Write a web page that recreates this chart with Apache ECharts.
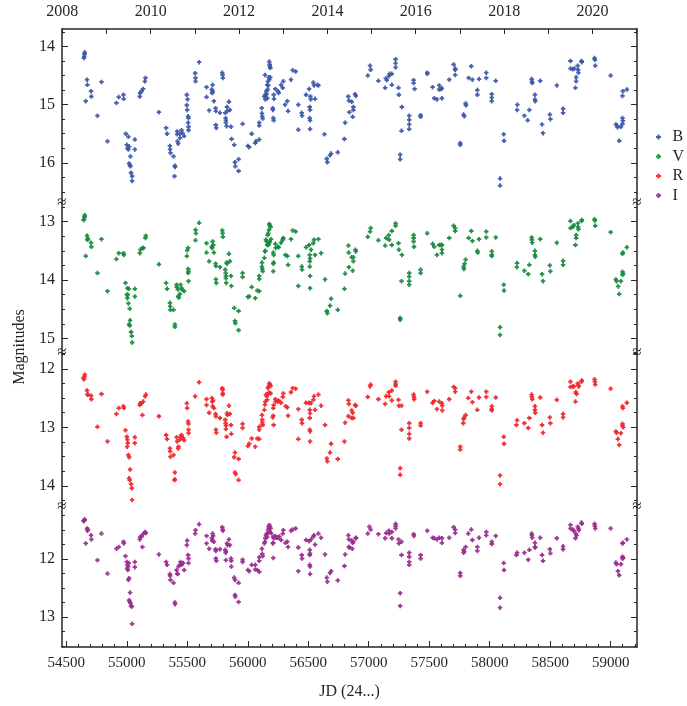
<!DOCTYPE html>
<html><head><meta charset="utf-8">
<script src="https://cdn.jsdelivr.net/npm/echarts@6/dist/echarts.min.js"></script>
<style>html,body{margin:0;padding:0;background:#fff}#c{width:687px;height:706px}</style>
</head><body><div id="c"></div>
<script>
const bandNames = ['B', 'V', 'R', 'I'];
const bandColors = ['#3a56aa', '#17893d', '#f0252b', '#9a2b8e'];

const bandB = [[54645,14.20],[54648,14.17],[54650,14.13],[54652,14.10],
[54660,14.94],[54671,14.57],[54674,14.66],[54704,14.77],[54707,14.86],
[54757,15.19],[54790,14.61],[54840,15.63],
[54914,14.97],[54933,14.87],[54972,14.83],[54974,14.90],
[54991,15.50],[55013,15.55],[55000,15.69],[55005,15.75],[55013,15.77],[55019,15.72],
[55030,15.89],[55019,16.01],[55025,16.04],[55030,16.06],
[55035,16.17],[55044,16.23],[55044,16.31],
[55066,15.60],[55066,15.77],
[55107,14.86],[55110,14.80],[55121,14.77],[55135,14.73],[55149,14.60],[55154,14.54],
[55265,15.13],[55325,15.40],[55333,15.50],
[55356,15.71],[55358,15.77],[55361,15.83],[55386,15.89],[55397,16.05],[55399,16.07],[55394,16.23],
[55416,15.46],[55416,15.51],[55419,15.63],[55425,15.67],[55438,15.50],[55440,15.57],[55452,15.44],[55460,15.49],[55474,15.54],
[55496,14.83],[55502,14.91],[55496,15.01],[55499,15.09],[55507,15.20],[55510,15.23],[55507,15.31],[55510,15.38],[55510,15.44],
[55565,14.46],[55568,14.54],[55568,14.60],[55598,14.27],
[55659,14.70],[55659,14.87],[55681,15.10],[55703,14.74],[55706,14.80],[55709,14.77],[55709,14.66],[55720,14.94],
[55734,15.06],[55736,15.11],[55736,15.35],[55740,15.40],[55770,15.14],
[55789,14.45],[55792,14.49],[55794,14.54],
[55814,15.14],[55817,15.23],[55819,15.27],[55819,15.31],[55825,15.37],[55828,15.04],[55831,15.11],[55844,14.95],[55852,15.09],[55861,15.38],[55866,15.59],
[55888,15.69],[55894,15.99],[55897,16.06],[55924,15.94],[55924,16.14],[55957,15.33],
[56001,15.71],[56012,15.73],[56032,15.50],[56062,15.66],[56068,15.63],
[56095,15.60],[56095,15.31],[56095,15.36],
[56115,15.06],[56117,15.15],[56120,15.20],[56123,15.24],
[56137,14.86],[56145,14.91],[56145,14.83],[56142,14.49],
[56153,14.77],[56156,14.82],[56161,14.89],[56161,14.66],[56167,14.60],[56172,14.53],
[56178,14.26],[56181,14.31],[56183,14.34],[56186,14.37],
[56164,14.74],[56170,14.67],[56178,14.57],[56186,14.53],
[56206,15.06],[56208,15.09],[56211,15.23],[56214,15.27],[56214,14.83],[56217,14.90],
[56228,14.73],[56250,14.77],[56255,14.80],[56275,14.66],[56289,14.71],[56294,14.60],
[56308,15.00],[56327,14.94],[56333,15.11],[56357,14.57],[56371,14.41],[56396,14.43],
[56418,15.00],[56418,15.43],[56446,15.14],[56449,15.19],
[56482,14.83],[56507,14.73],[56512,15.04],[56515,15.09],[56512,15.23],[56515,15.27],[56515,15.42],[56518,14.86],[56520,14.91],
[56542,14.62],[56548,14.67],[56556,14.90],[56576,14.66],[56584,14.67],
[56634,15.51],[56653,15.93],[56658,15.99],[56680,15.87],[56689,15.84],[56744,15.82],
[56799,15.59],[56805,15.31],
[56831,14.86],[56836,14.93],[56859,14.95],[56840,15.13],[56873,15.04],[56873,15.09],[56867,15.21],[56887,14.82],[56893,14.85],
[56992,14.50],[57011,14.33],[57016,14.40],[57080,14.59],[57136,14.71],[57141,14.55],[57149,14.58],[57166,14.51],[57172,14.47],[57191,14.47],[57191,14.66],
[57222,14.22],[57222,14.29],[57222,14.36],[57246,14.71],[57249,14.83],[57274,15.04],[57271,15.45],[57260,15.86],[57260,15.94],
[57335,15.19],[57335,15.26],[57335,15.34],[57335,15.42],
[57371,14.58],[57371,14.63],[57379,14.73],[57429,15.18],[57429,15.21],[57484,14.45],[57484,14.47],
[57528,14.70],[57542,14.89],[57564,14.91],[57583,14.67],[57583,14.74],[57597,14.73],[57605,14.72],[57605,14.89],
[57666,14.57],[57702,14.31],[57715,14.38],[57715,14.40],[57715,14.49],
[57757,15.66],[57757,15.69],[57784,15.17],[57790,15.20],[57801,14.98],[57804,15.01],
[57826,14.54],[57848,14.34],[57857,14.57],[57898,14.75],[57898,14.83],[57912,14.56],
[57972,14.45],[57972,14.54],[58017,14.82],[58017,14.88],[58017,14.94],[58050,14.59],
[58086,16.27],[58086,16.39],[58116,15.51],[58119,15.62],
[58227,15.09],[58229,15.00],[58287,15.19],[58314,15.27],[58328,15.09],
[58347,14.56],[58349,14.60],[58352,14.63],[58374,14.83],[58374,14.91],[58377,14.94],
[58418,14.59],[58433,15.34],[58441,15.49],[58497,15.17],[58502,15.25],[58555,14.67],[58607,15.07],[58607,15.14],
[58668,14.25],[58668,14.38],[58687,14.39],[58701,14.38],[58709,14.71],[58715,14.53],[58715,14.60],[58728,14.33],[58731,14.40],[58734,14.45],
[58759,14.25],[58762,14.27],[58867,14.20],[58870,14.23],[58873,14.33],
[59000,14.50],[59043,15.34],[59054,15.36],[59057,15.39],[59071,15.62],[59085,15.38],[59098,15.23],[59101,15.28],[59098,15.33],[59098,14.85],[59101,14.77],[59134,14.74]];

const bandV = [[54642,12.97],[54646,12.96],[54650,12.92],[54652,12.89],
[54660,13.59],[54671,13.24],[54674,13.31],[54679,13.29],[54704,13.36],[54707,13.43],
[54757,13.88],[54790,13.30],[54840,14.19],
[54914,13.64],[54933,13.54],[54972,13.54],[54975,13.57],
[54989,14.05],[55000,14.25],[55005,14.14],[55008,14.25],[55005,14.31],[55016,14.15],[55013,14.40],[55024,14.49],
[55019,14.76],[55024,14.78],[55027,14.69],[55035,14.89],[55041,14.96],[55044,15.07],
[55066,14.15],[55066,14.28],
[55107,13.54],[55113,13.48],[55129,13.45],[55138,13.45],[55154,13.28],[55157,13.24],
[55265,13.73],[55325,14.05],[55333,14.15],
[55356,14.39],[55358,14.45],[55361,14.51],[55386,14.51],[55397,14.76],[55397,14.80],
[55411,14.08],[55413,14.12],[55422,14.16],[55425,14.28],[55430,14.30],[55438,14.24],
[55444,14.08],[55452,14.14],[55460,14.17],[55474,14.19],
[55496,13.59],[55499,13.49],[55507,13.45],[55507,13.81],[55507,13.88],[55510,13.85],[55510,14.02],
[55568,13.14],[55571,13.20],[55568,13.32],[55598,13.02],
[55659,13.37],[55659,13.53],[55681,13.68],[55703,13.43],[55706,13.45],[55714,13.40],[55709,13.34],[55720,13.53],
[55734,13.72],[55736,13.76],[55736,13.99],[55740,14.05],[55770,13.78],
[55789,13.15],[55792,13.20],[55794,13.26],
[55814,13.82],[55817,13.88],[55819,13.93],[55819,13.97],[55822,14.05],[55825,13.70],[55828,13.72],[55844,13.55],[55852,13.68],[55861,13.93],[55864,14.10],
[55888,14.48],[55894,14.70],[55897,14.74],[55924,14.53],[55924,14.86],[55957,13.88],[55957,13.95],
[56001,14.29],[56012,14.28],[56032,14.12],[56062,14.31],[56079,14.18],[56095,14.19],
[56095,13.93],[56095,13.98],
[56117,13.70],[56117,13.77],[56120,13.81],[56123,13.85],
[56137,13.62],[56142,13.51],[56145,13.50],
[56150,13.31],[56156,13.34],[56161,13.40],
[56164,13.23],[56170,13.20],[56175,13.14],[56178,13.04],[56183,13.07],[56189,13.09],
[56170,13.40],[56175,13.37],[56183,13.34],[56192,13.30],
[56211,13.53],[56214,13.57],[56211,13.72],[56214,13.70],[56211,13.85],
[56228,13.38],[56231,13.45],[56250,13.43],[56255,13.44],[56275,13.36],[56289,13.31],[56294,13.28],
[56311,13.57],[56327,13.59],[56333,13.74],[56357,13.30],[56371,13.15],[56396,13.17],
[56418,13.59],[56418,14.10],[56446,13.77],[56449,13.82],
[56482,13.44],[56507,13.40],[56512,13.57],[56515,13.63],[56512,13.68],[56512,13.77],[56515,13.93],[56515,14.14],[56523,13.48],
[56542,13.37],[56548,13.31],[56556,13.57],[56584,13.30],[56606,13.54],
[56639,13.99],[56653,14.53],[56658,14.57],[56680,14.44],[56689,14.32],[56744,14.51],
[56799,14.15],[56805,13.89],
[56832,13.41],[56834,13.53],[56836,13.78],[56859,13.61],[56867,13.84],[56873,13.68],[56873,13.61],[56890,13.48],[56893,13.51],
[56992,13.26],[57011,13.17],[57016,13.11],[57080,13.32],[57136,13.41],[57144,13.28],[57166,13.23],[57169,13.31],[57191,13.16],[57191,13.40],
[57222,13.03],[57222,13.07],[57246,13.37],[57249,13.48],[57274,13.57],[57271,14.02],[57260,14.65],[57260,14.68],
[57335,13.88],[57335,13.94],[57335,14.02],[57335,14.08],
[57371,13.23],[57371,13.28],[57371,13.34],[57374,13.43],[57429,13.82],[57429,13.88],[57484,13.20],
[57528,13.38],[57542,13.43],[57564,13.57],[57583,13.40],[57597,13.40],[57605,13.40],[57605,13.48],[57605,13.54],
[57666,13.28],[57702,13.07],[57715,13.11],[57715,13.16],
[57757,14.27],[57784,13.77],[57787,13.81],[57793,13.72],[57801,13.65],
[57826,13.28],[57848,13.16],[57857,13.33],[57898,13.50],[57901,13.53],[57912,13.30],
[57972,13.17],[57972,13.27],[58017,13.51],[58017,13.57],[58017,13.59],[58050,13.27],
[58086,14.81],[58086,14.94],[58116,14.08],[58119,14.18],
[58224,13.78],[58227,13.71],[58287,13.84],[58319,13.90],[58328,13.74],
[58347,13.27],[58349,13.31],[58352,13.36],[58374,13.50],[58374,13.57],[58377,13.60],
[58418,13.30],[58433,13.90],[58441,14.02],[58497,13.75],[58502,13.85],[58555,13.36],[58607,13.67],[58607,13.74],
[58668,12.99],[58668,13.11],[58687,13.09],[58695,13.06],[58709,13.40],[58715,13.23],[58715,13.28],[58728,13.03],[58731,13.09],[58734,13.13],
[58759,12.99],[58762,12.97],[58867,12.96],[58870,12.98],[58873,13.07],
[59000,13.18],[59043,13.99],[59049,14.02],[59063,14.11],[59071,14.24],[59085,14.02],[59098,13.86],[59098,13.91],[59104,13.89],[59098,13.55],[59101,13.53],[59134,13.44]];

const bandR = [[54642,12.16],[54646,12.18],[54650,12.13],[54652,12.10],
[54671,12.37],[54674,12.44],[54679,12.44],[54704,12.46],[54707,12.52],
[54757,12.99],[54790,12.43],[54840,13.24],
[54914,12.77],[54933,12.67],[54972,12.64],[54975,12.67],
[54989,13.05],[55000,13.16],[55005,13.21],[55003,13.33],[55008,13.27],
[55013,13.47],[55019,13.51],[55027,13.72],[55019,13.87],[55024,13.90],[55035,13.97],[55041,14.04],[55044,14.24],
[55066,13.17],[55066,13.27],
[55107,12.62],[55110,12.59],[55121,12.59],[55129,12.79],[55135,12.56],[55151,12.47],[55157,12.44],
[55265,12.81],[55325,13.13],[55333,13.20],
[55356,13.36],[55358,13.41],[55361,13.50],[55386,13.47],[55397,13.77],[55397,13.89],[55394,13.90],
[55411,13.17],[55416,13.24],[55425,13.36],[55427,13.33],[55438,13.21],[55444,13.16],[55452,13.13],[55466,13.18],[55474,13.22],
[55496,12.59],[55499,12.67],[55507,12.90],[55510,12.94],[55510,13.04],[55510,13.10],
[55565,12.47],[55598,12.23],
[55659,12.52],[55659,12.62],[55681,12.75],[55703,12.50],[55706,12.56],[55714,12.54],[55709,12.64],[55720,12.67],
[55734,12.77],[55736,12.81],[55736,13.04],[55740,13.09],[55770,12.84],
[55789,12.33],[55792,12.36],[55794,12.42],[55792,12.44],
[55814,12.87],[55817,12.93],[55819,12.97],[55819,13.03],[55825,13.16],[55828,12.76],[55833,12.79],[55844,12.63],[55852,12.77],[55861,12.96],[55864,13.11],
[55894,13.43],[55888,13.51],[55894,13.77],[55900,13.80],[55924,13.54],[55924,13.90],
[55957,12.94],[55957,13.01],
[56001,13.32],[56012,13.28],[56032,13.19],[56062,13.33],[56079,13.19],[56095,13.20],[56095,12.99],[56095,13.04],
[56117,12.79],[56120,12.87],[56120,12.92],[56123,12.96],
[56137,12.70],[56142,12.61],[56145,12.56],
[56150,12.44],[56156,12.47],[56161,12.53],
[56167,12.33],[56172,12.30],[56178,12.25],[56183,12.27],[56189,12.29],
[56170,12.42],[56178,12.41],[56189,12.42],
[56206,12.83],[56211,12.80],[56214,12.62],[56211,12.67],[56214,12.96],
[56228,12.52],[56231,12.56],[56250,12.56],[56255,12.54],[56275,12.58],[56289,12.48],[56294,12.42],
[56313,12.64],[56327,12.66],[56333,12.80],[56357,12.40],[56371,12.33],[56396,12.34],
[56418,12.69],[56418,13.20],[56446,12.87],[56449,12.93],
[56482,12.58],[56507,12.58],[56512,12.70],[56515,12.76],[56512,12.84],[56512,13.04],[56515,13.07],[56515,13.24],[56523,12.59],
[56542,12.53],[56548,12.47],[56556,12.70],[56584,12.44],[56606,12.63],
[56639,12.96],[56653,13.53],[56658,13.58],[56680,13.43],[56689,13.28],[56744,13.54],
[56799,13.24],[56805,12.92],
[56832,12.54],[56836,12.60],[56832,12.81],[56859,12.71],[56867,12.75],[56859,12.84],[56873,12.84],[56887,12.62],[56895,12.63],
[56992,12.48],[57011,12.30],[57016,12.27],[57080,12.52],[57136,12.60],[57144,12.47],[57166,12.40],[57169,12.47],[57191,12.37],[57191,12.54],
[57222,12.22],[57222,12.26],[57222,12.29],[57246,12.53],[57249,12.63],[57271,12.63],[57271,13.04],[57260,13.70],[57260,13.81],
[57335,12.93],[57335,13.01],[57335,13.11],[57335,13.19],
[57371,12.44],[57374,12.48],[57376,12.52],[57429,12.93],[57429,12.97],[57484,12.39],
[57528,12.58],[57542,12.55],[57564,12.69],[57583,12.56],[57605,12.59],[57608,12.63],[57608,12.71],
[57666,12.52],[57702,12.31],[57715,12.33],[57715,12.39],
[57757,13.33],[57757,13.38],[57782,12.93],[57784,12.86],[57790,12.83],[57801,12.79],
[57823,12.50],[57848,12.39],[57857,12.57],[57898,12.70],[57912,12.49],
[57972,12.39],[57972,12.48],[58017,12.64],[58017,12.69],[58017,12.71],[58050,12.49],
[58086,13.82],[58086,13.97],[58116,13.16],[58119,13.28],
[58221,12.96],[58227,12.88],[58287,12.93],[58319,13.01],[58328,12.84],
[58347,12.44],[58349,12.48],[58352,12.52],[58374,12.64],[58374,12.70],[58377,12.75],
[58418,12.49],[58433,12.96],[58441,13.09],[58497,12.83],[58502,12.93],[58555,12.53],[58607,12.77],[58607,12.83],
[58668,12.22],[58668,12.31],[58687,12.30],[58695,12.30],[58709,12.56],[58712,12.40],[58718,12.43],[58728,12.25],[58731,12.28],[58737,12.30],
[58759,12.22],[58762,12.20],[58867,12.18],[58870,12.22],[58873,12.27],
[59000,12.34],[59043,13.07],[59049,13.09],[59060,13.20],[59071,13.30],[59085,13.10],[59098,12.94],[59098,12.97],[59104,13.00],[59098,12.64],[59101,12.67],[59134,12.58]];

const bandI = [[54642,11.34],[54646,11.34],[54650,11.32],[54652,11.32],
[54660,11.73],[54671,11.47],[54674,11.51],[54679,11.49],[54704,11.59],[54707,11.66],
[54757,12.02],[54790,11.56],[54840,12.25],
[54914,11.82],[54933,11.79],[54972,11.70],[54975,11.73],
[54989,11.95],[55000,12.05],[55005,12.10],[55003,12.16],[55008,12.19],[55011,12.13],[55016,12.07],
[55013,12.36],[55019,12.33],[55027,12.58],[55019,12.71],[55024,12.74],[55030,12.76],[55035,12.81],[55041,12.82],[55044,13.12],
[55066,12.05],[55066,12.14],
[55107,11.66],[55110,11.62],[55121,11.61],[55129,11.79],[55135,11.57],[55151,11.53],[55157,11.55],
[55265,11.92],[55325,12.05],[55333,12.10],
[55356,12.26],[55358,12.29],[55361,12.36],[55386,12.41],[55397,12.75],[55399,12.78],
[55411,12.19],[55416,12.25],[55422,12.26],[55427,12.13],[55438,12.10],[55444,12.05],[55452,12.10],[55466,12.07],[55474,12.19],
[55496,11.76],[55499,11.68],[55507,11.93],[55510,11.99],[55510,12.07],
[55565,11.56],[55568,11.50],[55598,11.40],
[55659,11.60],[55659,11.73],[55681,11.82],[55703,11.64],[55706,11.68],[55714,11.60],[55709,11.56],[55720,11.70],
[55734,11.83],[55736,11.86],[55736,11.99],[55740,12.03],[55770,11.83],
[55789,11.45],[55792,11.49],[55794,11.51],
[55814,11.84],[55817,11.89],[55819,11.87],[55819,12.02],[55828,11.73],[55833,11.76],[55844,11.66],[55852,11.76],[55861,11.99],[55864,12.03],[55864,12.13],
[55888,12.32],[55894,12.36],[55894,12.62],[55897,12.65],[55924,12.41],[55924,12.74],
[55957,12.01],[55957,12.05],
[56001,12.19],[56012,12.21],[56032,12.10],[56062,12.10],[56062,12.18],[56079,12.19],[56095,12.22],[56095,11.97],[56095,12.03],
[56117,11.82],[56120,11.91],[56123,11.95],
[56137,11.73],[56142,11.70],[56145,11.64],
[56150,11.59],[56156,11.56],[56161,11.62],
[56167,11.49],[56172,11.44],[56178,11.41],[56183,11.44],[56189,11.47],
[56170,11.55],[56183,11.53],[56192,11.55],
[56206,11.73],[56211,11.72],[56211,11.61],[56214,11.64],[56211,11.98],
[56228,11.60],[56233,11.63],[56250,11.63],[56261,11.61],[56275,11.67],[56289,11.56],[56294,11.50],
[56311,11.72],[56327,11.70],[56333,11.79],[56357,11.51],[56371,11.49],[56396,11.47],
[56418,11.80],[56418,12.21],[56446,11.93],[56449,11.99],
[56482,11.67],[56507,11.69],[56512,11.84],[56515,11.90],[56512,11.93],[56512,12.10],[56515,12.13],[56515,12.26],[56523,11.66],
[56542,11.61],[56548,11.59],[56556,11.75],[56584,11.56],[56606,11.63],
[56639,11.92],[56653,12.32],[56658,12.39],[56680,12.24],[56689,12.21],[56744,12.37],
[56799,12.12],[56805,11.92],
[56832,11.59],[56836,11.66],[56836,11.79],[56840,11.80],[56859,11.68],[56867,11.72],[56864,11.82],[56873,11.70],[56893,11.63],[56895,11.64],
[56992,11.56],[57005,11.44],[57016,11.49],[57080,11.57],[57136,11.64],[57144,11.55],[57166,11.51],[57169,11.56],[57191,11.53],[57191,11.64],
[57222,11.39],[57222,11.43],[57222,11.47],[57246,11.66],[57249,11.73],[57271,11.70],[57271,11.93],[57260,12.59],[57260,12.81],
[57335,11.89],[57335,11.96],[57335,12.05],[57335,12.10],
[57371,11.57],[57374,11.60],[57429,11.93],[57429,11.99],[57484,11.51],
[57528,11.63],[57542,11.64],[57564,11.66],[57583,11.63],[57605,11.64],[57605,11.72],
[57666,11.63],[57702,11.45],[57715,11.49],[57715,11.55],
[57757,12.24],[57757,12.29],[57784,11.89],[57784,11.84],[57790,11.87],[57801,11.79],
[57823,11.56],[57848,11.49],[57857,11.67],[57898,11.79],[57898,11.86],[57912,11.63],
[57972,11.53],[57972,11.59],[58017,11.70],[58017,11.74],[58050,11.60],
[58086,12.67],[58086,12.84],[58116,12.07],[58119,12.19],
[58221,11.93],[58227,11.89],[58287,11.89],[58319,12.01],[58328,11.84],
[58347,11.56],[58349,11.59],[58352,11.63],[58374,11.72],[58374,11.79],[58377,11.80],
[58418,11.63],[58433,11.93],[58441,12.03],[58497,11.83],[58502,11.90],[58555,11.64],[58607,11.78],[58607,11.83],
[58668,11.41],[58668,11.47],[58687,11.49],[58695,11.51],[58709,11.64],[58712,11.56],[58718,11.59],[58728,11.44],[58734,11.47],[58737,11.50],
[58759,11.37],[58762,11.39],[58867,11.39],[58870,11.43],[58873,11.47],
[59000,11.47],[59043,12.06],[59049,12.09],[59060,12.21],[59071,12.28],[59085,12.09],[59098,11.96],[59098,11.99],[59104,11.98],[59098,11.73],[59101,11.72],[59134,11.66]];

const bandData = [bandB, bandV, bandR, bandI];

// axes
const jdRange = [54464, 59218];
const jdLabels = [54500, 55000, 55500, 56000, 56500, 57000, 57500, 58000, 58500, 59000];
const jdMinor = [54500,54600,54700,54800,54900,55000,55100,55200,55300,55400,55500,55600,55700,55800,55900,56000,56100,56200,56300,56400,56500,56600,56700,56800,56900,57000,57100,57200,57300,57400,57500,57600,57700,57800,57900,58000,58100,58200,58300,58400,58500,58600,58700,58800,58900,59000,59100,59200];
const yearLabels = [2008, 2009, 2010, 2011, 2012, 2013, 2014, 2015, 2016, 2017, 2018, 2019, 2020, 2021];
const yearJD = [54466.5, 54832.5, 55197.5, 55562.5, 55927.5, 56293.5, 56658.5, 57023.5, 57388.5, 57754.5, 58119.5, 58484.5, 58849.5, 59215.5];
const magLabels = [[14, 15, 16], [13, 14, 15], [12, 13, 14], [12, 13]];
const magRanges = [[13.70, 16.69], [12.68, 15.25], [11.73, 14.36], [11.10, 13.52]];

// layout
const L = 62, W = 575;
const panelTop = [29, 203, 353, 507];
const panelH = [174, 150, 154, 140];
const FONT = 'Liberation Serif';
const INK = '#262626';

function quarters(r) {
  const out = [];
  for (let v = Math.ceil(r[0] * 4) / 4; v <= r[1] + 1e-9; v += 0.25) out.push(+v.toFixed(2));
  return out;
}

const grids = panelTop.map((t, g) => ({ left: L, top: t, width: W, height: panelH[g], containLabel: false }));

const xAxes = [];
for (let g = 0; g < 4; g++) {
  if (g === 0) {
    xAxes.push({
      type: 'value', gridIndex: 0, position: 'top', min: jdRange[0], max: jdRange[1],
      axisLine: { show: true, onZero: false, lineStyle: { color: INK, width: 1.5 } },
      axisTick: { show: true, inside: true, length: 5, customValues: yearJD, lineStyle: { color: INK, width: 1 } },
      axisLabel: {
        show: true, margin: 9, customValues: yearJD.filter((v, i) => yearLabels[i] % 2 === 0 && yearLabels[i] < 2021),
        formatter: v => { const i = yearJD.findIndex(j => Math.abs(j - v) < 1); return i >= 0 ? String(yearLabels[i]) : ''; },
        fontFamily: FONT, fontSize: 16, color: INK
      },
      splitLine: { show: false }
    });
  } else if (g === 3) {
    xAxes.push({
      type: 'value', gridIndex: 3, position: 'bottom', min: jdRange[0], max: jdRange[1],
      axisLine: { show: true, onZero: false, lineStyle: { color: INK, width: 1.5 } },
      axisTick: { show: true, inside: true, length: 6, customValues: jdLabels, lineStyle: { color: INK, width: 1 } },
      axisLabel: { show: true, margin: 9, customValues: jdLabels, formatter: v => String(v), fontFamily: FONT, fontSize: 15, color: INK },
      splitLine: { show: false },
      name: 'JD (24...)', nameLocation: 'middle', nameGap: 37,
      nameTextStyle: { fontFamily: FONT, fontSize: 16, color: INK }
    });
  } else {
    xAxes.push({ type: 'value', gridIndex: g, show: false, min: jdRange[0], max: jdRange[1], splitLine: { show: false } });
  }
}
xAxes.push({
  type: 'value', gridIndex: 3, position: 'bottom', min: jdRange[0], max: jdRange[1],
  axisLine: { show: false, onZero: false },
  axisTick: { show: true, inside: true, length: 3, customValues: jdMinor.filter(v => v <= jdRange[1]), lineStyle: { color: INK, width: 1 } },
  axisLabel: { show: false }, splitLine: { show: false }
});

const yAxes = [];
for (let g = 0; g < 4; g++) {
  const r = magRanges[g];
  ['left', 'right'].forEach(side => {
    yAxes.push({
      type: 'value', gridIndex: g, position: side, inverse: true, min: r[0], max: r[1],
      axisLine: { show: true, onZero: false, lineStyle: { color: INK, width: 1.5 } },
      axisTick: { show: true, inside: true, length: 6, customValues: magLabels[g], lineStyle: { color: INK, width: 1 } },
      axisLabel: { show: side === 'left', margin: 7, customValues: magLabels[g], formatter: v => String(v), fontFamily: FONT, fontSize: 16, color: INK },
      splitLine: { show: false }
    });
    yAxes.push({
      type: 'value', gridIndex: g, position: side, inverse: true, min: r[0], max: r[1],
      axisLine: { show: false, onZero: false },
      axisTick: { show: true, inside: true, length: 3, customValues: quarters(r), lineStyle: { color: INK, width: 1 } },
      axisLabel: { show: false }, splitLine: { show: false }
    });
  });
}

const SYM = 'path://M1.5,0H3.5V1.5H5V3.5H3.5V5H1.5V3.5H0V1.5H1.5Z';
const series = bandData.map((d, g) => ({
  type: 'scatter', name: bandNames[g], data: d,
  xAxisIndex: g, yAxisIndex: g * 4,
  symbol: SYM, symbolSize: 4.5,
  itemStyle: { color: bandColors[g], opacity: 0.95 },
  emphasis: { disabled: true }, animation: false
}));

const breaks = [];
[203, 353, 507].forEach(y => {
  [L, L + W].forEach(x => {
    breaks.push({ type: 'text', x: x, y: y, z: 100,
      style: { text: '≈', fill: INK, font: '17px "' + FONT + '"', align: 'center', verticalAlign: 'middle' } });
  });
});
breaks.push({ type: 'text', x: 20, y: 347, rotation: Math.PI / 2,
  style: { text: 'Magnitudes', fill: INK, font: '16px "' + FONT + '"', align: 'center', verticalAlign: 'middle' } });

const chart = echarts.init(document.getElementById('c'), null, { renderer: 'canvas' });
chart.setOption({
  backgroundColor: '#fff',
  animation: false,
  grid: grids,
  xAxis: xAxes,
  yAxis: yAxes,
  legend: {
    orient: 'vertical', left: 651, top: 124, itemWidth: 24, itemHeight: 5, itemGap: 3.5,
    data: bandNames,
    textStyle: { fontFamily: FONT, fontSize: 16, color: INK, padding: [0, 0, 0, -3] }
  },
  graphic: breaks,
  series: series
});
</script></body></html>
